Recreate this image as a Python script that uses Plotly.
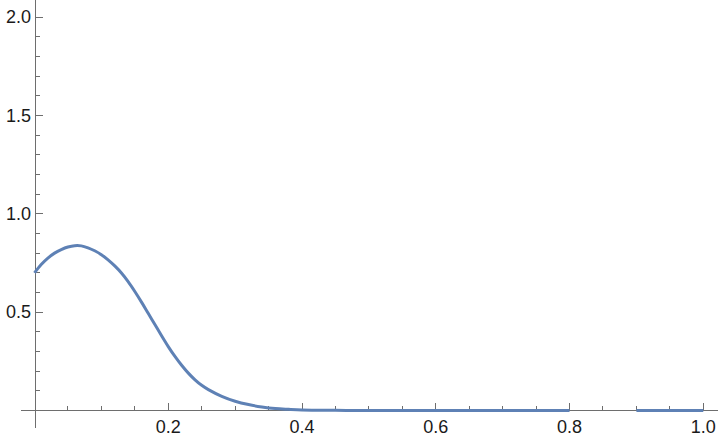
import plotly.graph_objects as go

# data
x_vals = [0.00, 0.01, 0.02, 0.03, 0.04, 0.05, 0.06, 0.07, 0.08, 0.09, 0.10, 0.11, 0.12, 0.13, 0.14,
          0.15, 0.16, 0.17, 0.18, 0.19, 0.20, 0.21, 0.22, 0.23, 0.24, 0.25, 0.26, 0.28, 0.30, 0.32, 0.34, 0.36,
          0.38, 0.40, 0.45, 0.50, 0.60, 0.70, 0.80, None, 0.90, 0.95, 1.00]
y_vals = [0.700, 0.742, 0.775, 0.800, 0.818, 0.831, 0.838, 0.837, 0.827, 0.812, 0.792, 0.766, 0.735, 0.699, 0.655,
          0.605, 0.551, 0.494, 0.437, 0.380, 0.325, 0.275, 0.230, 0.190, 0.156, 0.128, 0.106, 0.072, 0.047, 0.030, 0.018, 0.010,
          0.006, 0.003, 0.001, 0.0, 0.0, 0.0, 0.0, None, 0.0, 0.0, 0.0]

x_ticks = [0.2, 0.4, 0.6, 0.8, 1.0]
x_ticklabels = ["0.2", "0.4", "0.6", "0.8", "1.0"]
x_minor = [0.05, 0.1, 0.15, 0.25, 0.3, 0.35, 0.45, 0.5, 0.55, 0.65, 0.7, 0.75, 0.85, 0.9, 0.95]
y_ticks = [0.5, 1.0, 1.5, 2.0]
y_ticklabels = ["0.5", "1.0", "1.5", "2.0"]
y_minor = [-0.1, 0.1, 0.2, 0.3, 0.4, 0.6, 0.7, 0.8, 0.9, 1.1, 1.2, 1.3, 1.4, 1.6, 1.7, 1.8, 1.9]

x_range = [-0.0202, 1.022]
y_range = [-0.089, 2.087]

fig = go.Figure()
fig.add_trace(go.Scatter(
    x=x_vals, y=y_vals, mode="lines",
    line=dict(color="#5E81B5", width=3, shape="spline", smoothing=1.0),
    connectgaps=False, hoverinfo="skip", showlegend=False,
))

axis_color = "#6e6e6e"
font = dict(family="Liberation Sans, Arial, sans-serif", size=18, color="#1a1a1a")

xpos = (0 - y_range[0]) / (y_range[1] - y_range[0])
ypos = (0 - x_range[0]) / (x_range[1] - x_range[0])

fig.update_layout(
    width=720, height=444,
    margin=dict(l=21, r=2, t=0, b=16),
    paper_bgcolor="white", plot_bgcolor="white",
    font=font,
    xaxis=dict(
        range=x_range, showgrid=False, zeroline=False, automargin=False,
        showline=True, linecolor=axis_color, linewidth=1, layer="below traces",
        anchor="free", position=xpos,
        tickmode="array", tickvals=x_ticks, ticktext=x_ticklabels,
        ticks="inside", ticklen=7, tickwidth=1, tickcolor=axis_color,
        tickfont=font,
        minor=dict(tickmode="array", tickvals=x_minor, ticks="inside",
                   ticklen=4.5, tickwidth=1, tickcolor=axis_color, showgrid=False),
    ),
    yaxis=dict(
        range=y_range, showgrid=False, zeroline=False, automargin=False,
        showline=True, linecolor=axis_color, linewidth=1, layer="below traces",
        anchor="free", position=ypos,
        tickmode="array", tickvals=y_ticks, ticktext=y_ticklabels,
        ticks="inside", ticklen=7.5, tickwidth=1, tickcolor=axis_color,
        tickfont=font,
        minor=dict(tickmode="array", tickvals=y_minor, ticks="inside",
                   ticklen=4.5, tickwidth=1, tickcolor=axis_color, showgrid=False),
    ),
)

fig.write_html(
    "out.html",
    config={"displayModeBar": False},
    post_script="document.body.style.margin='0';document.body.style.padding='0';",
)
